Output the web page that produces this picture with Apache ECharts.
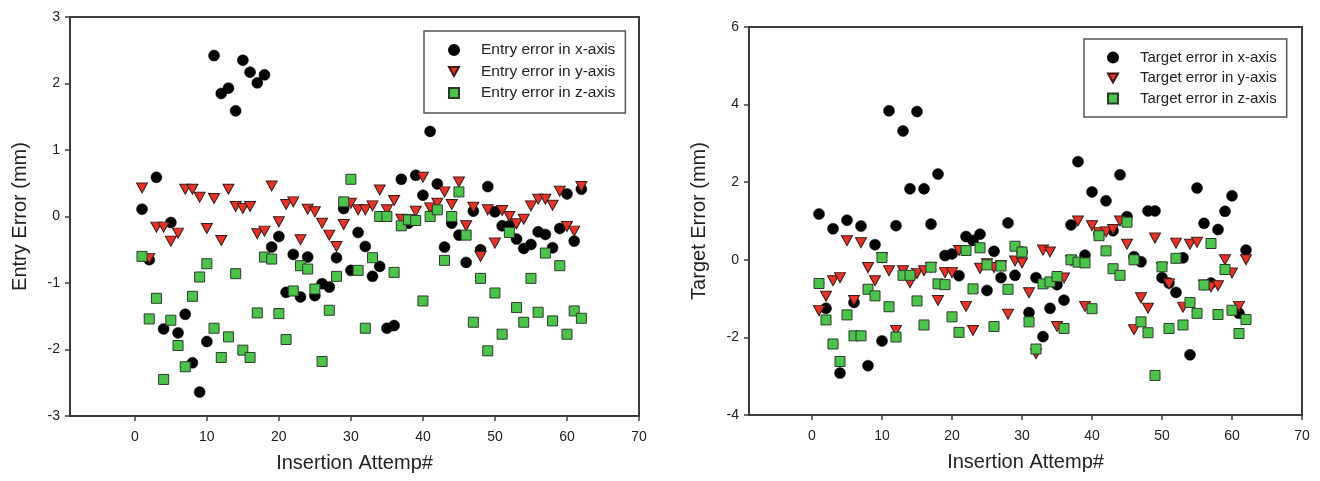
<!DOCTYPE html>
<html>
<head>
<meta charset="utf-8">
<script src="https://cdn.jsdelivr.net/npm/echarts@6/dist/echarts.min.js"></script>
<style>
  html, body { margin: 0; padding: 0; background: #fff; }
  #chart { width: 1320px; height: 481px; }
</style>
</head>
<body>
<div id="chart"></div>
<script>
// attempt numbers 1..62
var attempts = [];
for (var i = 1; i <= 62; i++) attempts.push(i);

var xTicks = [0, 10, 20, 30, 40, 50, 60, 70];

// entry error (mm)
var entryX = [0.11, -0.65, 0.59, -1.69, -0.09, -1.75, -1.47, -2.2, -2.64, -1.88,
  2.42, 1.85, 1.93, 1.59, 2.35, 2.17, 2.01, 2.13, -0.46, -0.30,
  -1.14, -0.57, -1.21, -0.61, -1.19, -1.01, -1.06, -0.62, 0.12, -0.81,
  -0.24, -0.45, -0.9, -0.75, -1.68, -1.64, 0.56, -0.1, 0.62, 0.32,
  1.28, 0.49, -0.46, -0.1, -0.28, -0.69, 0.08, -0.5, 0.45, 0.07,
  -0.14, -0.14, -0.34, -0.48, -0.42, -0.23, -0.27, -0.47, -0.18, 0.34,
  -0.37, 0.41];
var entryY = [0.43, -0.63, -0.16, -0.16, -0.37, -0.25, 0.41, 0.41, 0.29, -0.18,
  0.27, -0.36, 0.41, 0.15, 0.12, 0.15, -0.26, -0.22, 0.46, -0.08,
  0.18, 0.22, -0.35, 0.11, 0.07, -0.1, -0.28, -0.45, -0.12, 0.2,
  0.1, 0.1, 0.16, 0.4, 0.1, 0.24, -0.04, -0.05, 0.08, 0.59,
  0.13, 0.2, 0.37, 0.18, 0.52, -0.14, 0.14, -0.6, 0.1, -0.4,
  0.09, 0.0, -0.11, -0.04, 0.16, 0.26, 0.26, 0.17, 0.38, -0.15,
  -0.22, 0.45];
var entryZ = [-0.60, -1.54, -1.23, -2.45, -1.56, -1.94, -2.26, -1.2, -0.91, -0.71,
  -1.68, -2.12, -1.81, -0.86, -2.01, -2.12, -1.45, -0.61, -0.64, -1.46,
  -1.85, -1.12, -0.74, -0.79, -1.09, -2.18, -1.41, -0.9, 0.22, 0.56,
  -0.81, -1.68, -0.62, 0.0, 0.0, -0.84, -0.14, -0.05, -0.06, -1.27,
  0.0, 0.1, -0.66, 0.0, 0.37, -0.28, -1.59, -0.93, -2.02, -1.15,
  -1.77, -0.24, -1.37, -1.59, -0.93, -1.44, -0.55, -1.57, -0.74, -1.77,
  -1.42, -1.53];

// target error (mm)
var targetX = [1.18, -1.25, 0.8, -2.92, 1.02, -1.1, 0.87, -2.73, 0.39, -2.09,
  3.84, 0.88, 3.32, 1.83, 3.82, 1.83, 0.92, 2.21, 0.11, 0.15,
  -0.41, 0.6, 0.5, 0.66, -0.79, 0.22, -0.46, 0.95, -0.4, 0.2,
  -1.36, -0.46, -1.98, -1.25, -0.64, -1.04, 0.9, 2.53, 0.12, 1.75,
  0.68, 1.52, 0.75, 2.19, 1.11, 0.08, -0.05, 1.26, 1.26, -0.46,
  -0.6, -0.84, 0.05, -2.45, 1.85, 0.94, -0.6, 0.78, 1.25, 1.65,
  -1.38, 0.25];
var targetY = [-1.31, -0.94, -0.54, -0.46, 0.49, -1.05, 0.44, -0.2, -0.54, 0.05,
  -0.28, -1.82, -0.28, -0.59, -0.35, -0.28, -0.2, -1.05, -0.33, -0.33,
  0.24, -1.2, -1.82, -0.22, -0.1, -0.2, -0.15, -1.4, -0.03, -0.08,
  -0.85, -2.42, 0.25, 0.2, -1.72, -0.47, -0.02, 1.0, -1.2, 0.88,
  0.7, 0.72, 0.78, 1.0, 0.4, -1.8, -0.98, -1.25, 0.56, -0.2,
  -0.62, 0.43, -1.22, 0.4, 0.45, -0.65, -0.7, -0.67, 0.0, -0.34,
  -1.2, 0.0];
var targetZ = [-0.61, -1.55, -2.17, -2.62, -1.42, -1.96, -1.96, -0.76, -0.93, 0.06,
  -1.21, -1.99, -0.4, -0.4, -1.06, -1.68, -0.19, -0.62, -0.64, -1.47,
  -1.87, 0.24, -0.75, 0.31, -0.13, -1.72, -0.16, -0.76, 0.35, 0.2,
  -1.6, -2.3, -0.62, -0.57, -0.43, -1.77, 0.0, -0.06, -0.08, -1.26,
  0.62, 0.23, -0.23, -0.4, 0.97, 0.0, -1.6, -1.88, -2.98, -0.18,
  -1.77, 0.04, -1.68, -1.1, -1.38, -0.65, 0.42, -1.41, -0.25, -1.3,
  -1.9, -1.54];

function pairs(vals) {
  return vals.map(function (v, k) { return [attempts[k], v]; });
}

var FONT = "'Liberation Sans', Arial, sans-serif";
var INK = '#222';
var AXIS = '#3c3c3c';
var TRI = 'path://M0,0 L10,0 L5,9 Z';

var styles = [
  { symbol: 'circle', size: 11, item: { color: '#000', borderColor: '#000', borderWidth: 0.5, opacity: 1 } },
  { symbol: TRI, size: [11, 10], item: { color: '#e4342a', borderColor: '#3a1a14', borderWidth: 1, opacity: 1 } },
  { symbol: 'rect', size: 10, item: { color: '#4cc44c', borderColor: '#2b3b2b', borderWidth: 1, opacity: 1 } }
];

function mkSeries(name, vals, s, idx) {
  return {
    name: name, type: 'scatter',
    xAxisIndex: idx, yAxisIndex: idx,
    symbol: s.symbol, symbolSize: s.size,
    itemStyle: s.item,
    data: pairs(vals)
  };
}

function mkX(idx, grid) {
  return {
    type: 'value', gridIndex: grid, min: -9, max: 70,
    name: 'Insertion Attemp#', nameLocation: 'middle', nameGap: 37,
    nameTextStyle: { fontFamily: FONT, fontSize: 20, color: INK },
    axisLine: { onZero: false, lineStyle: { color: AXIS, width: 2 } },
    axisTick: { length: 5, customValues: xTicks, lineStyle: { color: AXIS, width: 1.5 } },
    axisLabel: { customValues: xTicks, margin: 14, fontFamily: FONT, fontSize: 14, color: INK },
    splitLine: { show: false }
  };
}

function mkY(grid, name, min, max, step) {
  return {
    type: 'value', gridIndex: grid, min: min, max: max, interval: step,
    name: name, nameLocation: 'middle', nameGap: 40,
    nameTextStyle: { fontFamily: FONT, fontSize: 20, color: INK },
    axisLine: { onZero: false, lineStyle: { color: AXIS, width: 2 } },
    axisTick: { length: 5, lineStyle: { color: AXIS, width: 1.5 } },
    axisLabel: { margin: 10, fontFamily: FONT, fontSize: 14, color: INK },
    splitLine: { show: false }
  };
}

function mkLegend(names, left, top, fs, pad) {
  return {
    orient: 'vertical', left: left, top: top,
    data: names,
    itemWidth: 10, itemHeight: 10, itemGap: 5.5,
    padding: pad,
    borderColor: '#555', borderWidth: 1.5, borderRadius: 0,
    backgroundColor: '#fff',
    textStyle: { fontFamily: FONT, fontSize: fs, color: INK, padding: [0, 0, 0, 17] }
  };
}

var entryNames = ['Entry error in x-axis', 'Entry error in y-axis', 'Entry error in z-axis'];
var targetNames = ['Target error in x-axis', 'Target error in y-axis', 'Target error in z-axis'];

var option = {
  backgroundColor: '#fff',
  animation: false,
  grid: [
    { left: 70, top: 17, width: 569, height: 399, show: true, borderColor: AXIS, borderWidth: 2 },
    { left: 749, top: 27, width: 553, height: 388, show: true, borderColor: AXIS, borderWidth: 2 }
  ],
  xAxis: [mkX(0, 0), mkX(1, 1)],
  yAxis: [
    mkY(0, 'Entry Error (mm)', -3, 3, 1),
    mkY(1, 'Target Error (mm)', -4, 6, 2)
  ],
  legend: [
    mkLegend(entryNames, 424, 31, 15.5, [11, 10, 12, 24]),
    mkLegend(targetNames, 1084, 39, 15, [11, 10, 11, 23])
  ],
  series: [
    mkSeries(entryNames[0], entryX, styles[0], 0),
    mkSeries(entryNames[1], entryY, styles[1], 0),
    mkSeries(entryNames[2], entryZ, styles[2], 0),
    mkSeries(targetNames[0], targetX, styles[0], 1),
    mkSeries(targetNames[1], targetY, styles[1], 1),
    mkSeries(targetNames[2], targetZ, styles[2], 1)
  ]
};

var chart = echarts.init(document.getElementById('chart'), null, { renderer: 'canvas' });
chart.setOption(option);
</script>
</body>
</html>
